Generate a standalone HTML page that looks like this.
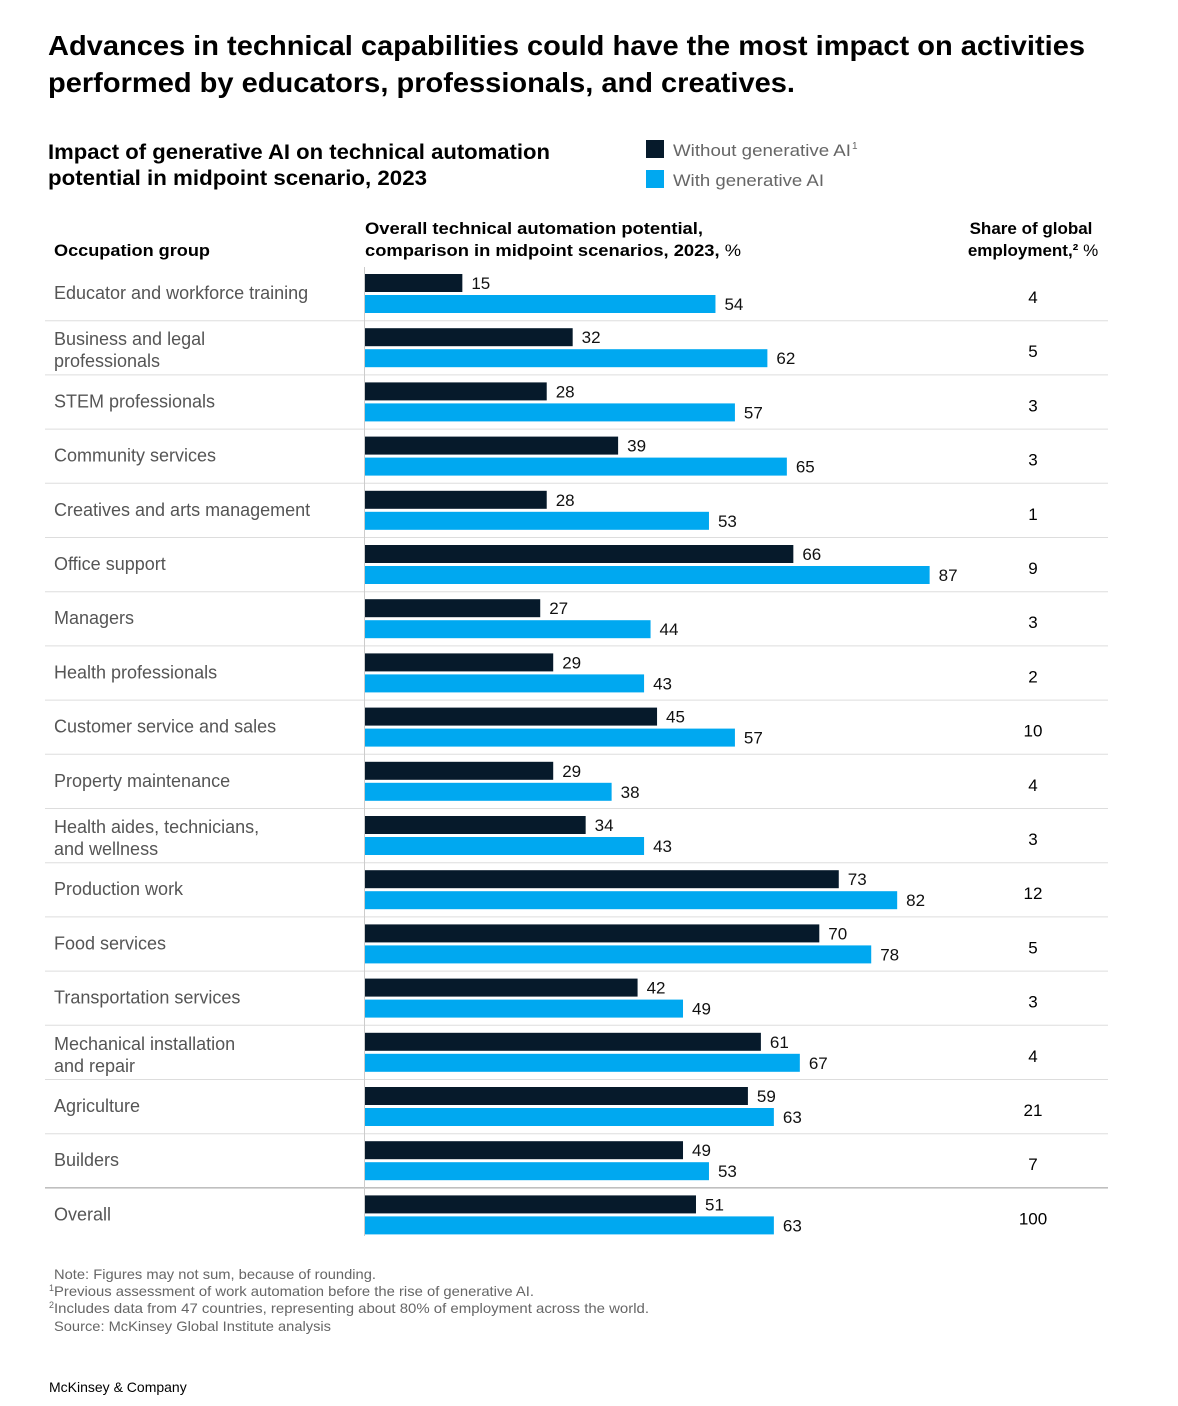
<!DOCTYPE html>
<html><head><meta charset="utf-8"><style>
body{margin:0;background:#fff;}
svg{display:block;font-family:"Liberation Sans",sans-serif;}
</style></head><body>
<svg id="chart" width="1178" height="1406" viewBox="0 0 1178 1406" xmlns="http://www.w3.org/2000/svg">
<text x="48" y="55" font-size="28" font-weight="bold" fill="#000" textLength="1037" lengthAdjust="spacingAndGlyphs">Advances in technical capabilities could have the most impact on activities</text>
<text x="48" y="92" font-size="28" font-weight="bold" fill="#000" textLength="747" lengthAdjust="spacingAndGlyphs">performed by educators, professionals, and creatives.</text>
<text x="48" y="159" font-size="21" font-weight="bold" fill="#000" textLength="502" lengthAdjust="spacingAndGlyphs">Impact of generative AI on technical automation</text>
<text x="48" y="185" font-size="21" font-weight="bold" fill="#000" textLength="379" lengthAdjust="spacingAndGlyphs">potential in midpoint scenario, 2023</text>
<g>
<rect x="646" y="140" width="18" height="18" fill="#061a2b"/>
<text x="673" y="156" font-size="17" fill="#666" textLength="178" lengthAdjust="spacingAndGlyphs">Without generative AI</text>
<text x="852" y="149" font-size="10" fill="#666">1</text>
<rect x="646" y="170" width="18" height="18" fill="#00a8f0"/>
<text x="673" y="186" font-size="17" fill="#666" textLength="151" lengthAdjust="spacingAndGlyphs">With generative AI</text>
</g>
<text x="54" y="256" font-size="17" font-weight="bold" fill="#000" textLength="156" lengthAdjust="spacingAndGlyphs">Occupation group</text>
<text x="365" y="234" font-size="17" font-weight="bold" fill="#000" textLength="338" lengthAdjust="spacingAndGlyphs">Overall technical automation potential,</text>
<text x="365" y="256" font-size="17" fill="#000" textLength="376" lengthAdjust="spacingAndGlyphs"><tspan font-weight="bold">comparison in midpoint scenarios, 2023,</tspan> %</text>
<text x="1031" y="234" font-size="17" font-weight="bold" fill="#000" text-anchor="middle">Share of global</text>
<text x="1033" y="256" font-size="17" fill="#000" text-anchor="middle"><tspan font-weight="bold">employment,² </tspan>%</text>
<g id="rows"></g>
<line x1="364.5" y1="267" x2="364.5" y2="1236" stroke="#ccc" stroke-width="1"/>
<g font-size="14" fill="#666">
<text x="54" y="1279" textLength="322" lengthAdjust="spacingAndGlyphs">Note: Figures may not sum, because of rounding.</text>
<text x="49" y="1296"><tspan font-size="9" dy="-5">1</tspan><tspan dy="5" textLength="480" lengthAdjust="spacingAndGlyphs">Previous assessment of work automation before the rise of generative AI.</tspan></text>
<text x="49" y="1313"><tspan font-size="9" dy="-5">2</tspan><tspan dy="5" textLength="595" lengthAdjust="spacingAndGlyphs">Includes data from 47 countries, representing about 80% of employment across the world.</tspan></text>
<text x="54" y="1331" textLength="277" lengthAdjust="spacingAndGlyphs">Source: McKinsey Global Institute analysis</text>
</g>
<text x="49" y="1392" font-size="14" fill="#000">McKinsey &amp; Company</text>
</svg>
<script>
const categories = [["Educator and workforce training"],["Business and legal","professionals"],["STEM professionals"],["Community services"],["Creatives and arts management"],["Office support"],["Managers"],["Health professionals"],["Customer service and sales"],["Property maintenance"],["Health aides, technicians,","and wellness"],["Production work"],["Food services"],["Transportation services"],["Mechanical installation","and repair"],["Agriculture"],["Builders"],["Overall"]];
const withoutGenAI = [15,32,28,39,28,66,27,29,45,29,34,73,70,42,61,59,49,51];
const withGenAI = [54,62,57,65,53,87,44,43,57,38,43,82,78,49,67,63,53,63];
const employmentShare = [4,5,3,3,1,9,3,2,10,4,3,12,5,3,4,21,7,100];

const NS = "http://www.w3.org/2000/svg";
const x0 = 365, pxPer = 6.49, rowTop = 274, rowH = 54.2;
const xScale = v => x0 + v * pxPer;
const g = document.getElementById("rows");
function mk(tag, attrs, text){
  const e = document.createElementNS(NS, tag);
  for (const k in attrs) e.setAttribute(k, attrs[k]);
  if (text !== undefined) e.textContent = text;
  g.appendChild(e);
  return e;
}
categories.forEach((lines, i) => {
  const top = rowTop + rowH * i;
  const isOverall = i === categories.length - 1;
  if (i > 0) {
    const y = top - 7.5;
    const sep = mk("line", {x1:45, x2:1108, y1:y, y2:y, stroke: isOverall ? "#999" : "#ddd", "stroke-width":1});
    
    
  }
  const center = top + 19;
  lines.forEach((ln, j) => {
    const y = lines.length === 1 ? center + 6 : center - 2 + j * 22;
    const t = mk("text", {x:54, y:y, "font-size":18, fill:"#555"}, ln);
    
    
  });
  const b1 = mk("rect", {x:x0, y:top, width:xScale(withoutGenAI[i]) - x0, height:18, fill:"#061a2b"});
  
  
  const l1 = mk("text", {x:xScale(withoutGenAI[i]) + 9, y:top + 15, "font-size":17, fill:"#111"}, withoutGenAI[i]);
  
  
  const b2 = mk("rect", {x:x0, y:top + 21, width:xScale(withGenAI[i]) - x0, height:18, fill:"#00a8f0"});
  
  
  const l2 = mk("text", {x:xScale(withGenAI[i]) + 9, y:top + 36, "font-size":17, fill:"#111"}, withGenAI[i]);
  
  
  const s = mk("text", {x:1033, y:center + 10, "font-size":17, fill:"#000", "text-anchor":"middle"}, employmentShare[i]);
  
  
});
</script>
</body></html>
